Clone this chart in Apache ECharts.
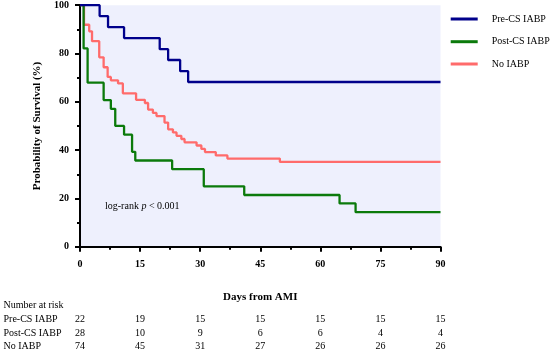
<!DOCTYPE html>
<html><head><meta charset="utf-8">
<script src="https://cdn.jsdelivr.net/npm/echarts@6/dist/echarts.min.js"></script>
<style>html,body{margin:0;padding:0;background:#fff}#c{width:550px;height:349px}</style>
</head><body><div id="c"></div>
<script>
const seriesNames = ['Pre-CS IABP', 'Post-CS IABP', 'No IABP'];
const preDays  = [0, 4.9, 7.0, 11.0, 19.9, 22.0, 25.0, 27.0, 90];
const preSurv  = [100, 95.5, 90.9, 86.4, 81.8, 77.3, 72.7, 68.2, 68.2];
const postDays = [0, 0.9, 1.9, 5.9, 7.7, 8.8, 11.0, 13.0, 13.8, 23.0, 30.9, 41.0, 64.8, 68.8, 90];
const postSurv = [100, 82.1, 67.9, 60.7, 57.1, 50.0, 46.4, 39.3, 35.7, 32.1, 25.0, 21.4, 17.9, 14.3, 14.3];
const noDays   = [0, 1.0, 2.3, 3.0, 4.8, 5.9, 6.9, 7.7, 9.5, 10.7, 14.0, 16.2, 17.0, 18.2, 19.1, 21.1, 22.0, 23.2, 24.1, 25.3, 26.1, 29.1, 30.3, 31.2, 33.9, 36.8, 49.9, 90];
const noSurv   = [100, 91.9, 89.2, 85.1, 78.4, 74.3, 70.3, 68.9, 67.6, 63.5, 60.8, 59.5, 56.8, 55.4, 54.1, 51.4, 48.6, 47.3, 45.9, 44.6, 43.2, 41.9, 40.5, 39.2, 37.8, 36.5, 35.1, 35.1];
const xTicks = [0, 15, 30, 45, 60, 75, 90];
const riskTimes = [0, 15, 30, 45, 60, 75, 90];
const riskPre  = [22, 19, 15, 15, 15, 15, 15];
const riskPost = [28, 10, 9, 6, 6, 4, 4];
const riskNo   = [74, 45, 31, 27, 26, 26, 26];
const annotation = 'log-rank';

const SERIF = '"Liberation Serif", "DejaVu Serif", serif';
const colors = ['#00008b', '#0b7a0b', '#ff6b6b'];
const zip = (a, b) => a.map((v, i) => [v, b[i]]);

const chart = echarts.init(document.getElementById('c'), null, {renderer: 'canvas'});
const axisCommon = {
  axisLine: {show: true, onZero: false, lineStyle: {color: '#000', width: 2}},
  axisTick: {show: true, length: 5, lineStyle: {color: '#000', width: 2}},
  minorTick: {show: true, splitNumber: 2, length: 3, lineStyle: {color: '#000', width: 2}},
  splitLine: {show: false},
  axisLabel: {color: '#000', fontFamily: SERIF, fontSize: 10, fontWeight: 'bold'},
  nameTextStyle: {color: '#000', fontFamily: SERIF, fontSize: 11, fontWeight: 'bold'}
};
const option = {
  animation: false,
  grid: {left: 80, right: 109.5, top: 5.2, bottom: 102.3, show: true, backgroundColor: '#eef0fd', borderWidth: 0},
  xAxis: Object.assign({}, axisCommon, {
    type: 'value', min: 0, max: 90, interval: 15,
    name: 'Days from AMI', nameLocation: 'middle', nameGap: 45,
    axisLabel: Object.assign({}, axisCommon.axisLabel, {margin: 13})
  }),
  yAxis: Object.assign({}, axisCommon, {
    type: 'value', min: 0, max: 100, interval: 20,
    name: 'Probability of Survival (%)', nameLocation: 'middle', nameGap: 36,
    axisLabel: Object.assign({}, axisCommon.axisLabel, {margin: 11})
  }),
  legend: seriesNames.map((n, i) => ({
    data: [n], orient: 'vertical', left: 450.7, top: [14, 36.7, 59][i], padding: 0,
    icon: 'rect', itemWidth: 27, itemHeight: 3,
    textStyle: {fontFamily: SERIF, fontSize: 10, color: '#000', padding: [0, 0, 0, 9]}
  })),
  series: [
    {name: seriesNames[0], type: 'line', step: 'end', data: zip(preDays, preSurv), showSymbol: false, z: 4, lineStyle: {color: colors[0], width: 2.3}, itemStyle: {color: colors[0]}},
    {name: seriesNames[1], type: 'line', step: 'end', data: zip(postDays, postSurv), showSymbol: false, z: 3, lineStyle: {color: colors[1], width: 2.3}, itemStyle: {color: colors[1]}},
    {name: seriesNames[2], type: 'line', step: 'end', data: zip(noDays, noSurv), showSymbol: false, z: 2, lineStyle: {color: colors[2], width: 2.3}, itemStyle: {color: colors[2]}}
  ]
};
chart.setOption(option);

const txtStyle = (extra) => Object.assign({fontFamily: SERIF, fontSize: 10, fill: '#000'}, extra);
const graphics = [];
graphics.push({type: 'text', left: 105, top: 201.5, style: {
  text: '{n|log-rank }{i|p}{n| < 0.001}',
  rich: {n: {fontFamily: SERIF, fontSize: 10, color: '#000'}, i: {fontFamily: SERIF, fontSize: 10, fontStyle: 'italic', color: '#000'}}
}});
const rows = [['Number at risk', null, 305], [seriesNames[0], riskPre, 319], [seriesNames[1], riskPost, 333], [seriesNames[2], riskNo, 346]];
rows.forEach(([label, vals, y]) => {
  graphics.push({type: 'text', x: 3.5, y: y, style: txtStyle({text: label, textVerticalAlign: 'middle', textAlign: 'left'})});
  if (vals) vals.forEach((v, i) => {
    const px = chart.convertToPixel({xAxisIndex: 0}, riskTimes[i]);
    graphics.push({type: 'text', x: px, y: y, style: txtStyle({text: String(v), textVerticalAlign: 'middle', textAlign: 'center'})});
  });
});
chart.setOption({graphic: graphics});
</script>
</body></html>
